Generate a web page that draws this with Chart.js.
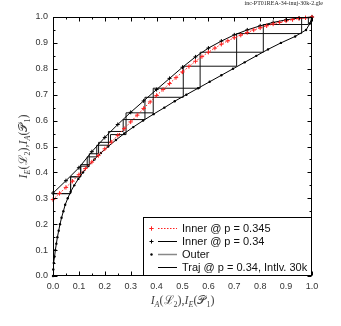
<!DOCTYPE html>
<html>
<head>
<meta charset="utf-8">
<script src="https://cdn.jsdelivr.net/npm/chart.js@4.4.0/dist/chart.umd.min.js"></script>
<style>
  html, body { margin: 0; padding: 0; background: #fff; }
  #wrap { width: 341px; height: 326px; }
</style>
</head>
<body>
<div id="wrap"><canvas id="exit" width="341" height="326"></canvas></div>
<script>
// EXIT chart values
const innerX345 = [0, 0.025, 0.05, 0.075, 0.1, 0.125, 0.15, 0.175, 0.2, 0.225, 0.25, 0.275, 0.3, 0.325, 0.35, 0.375, 0.4, 0.425, 0.45, 0.475, 0.5,
  0.525, 0.55, 0.575, 0.6, 0.625, 0.65, 0.675, 0.7, 0.725, 0.75, 0.775, 0.8, 0.825, 0.85, 0.875, 0.9, 0.925, 0.95, 0.975, 1.0];
const innerY345 = [0.295, 0.319, 0.342, 0.366, 0.391, 0.415, 0.44, 0.465, 0.491, 0.517, 0.543, 0.569, 0.595, 0.621, 0.647, 0.672, 0.697, 0.72, 0.743, 0.766, 0.788,
  0.809, 0.829, 0.847, 0.864, 0.88, 0.895, 0.908, 0.92, 0.93, 0.94, 0.95, 0.958, 0.966, 0.973, 0.979, 0.985, 0.99, 0.994, 0.997, 1.0];

const innerX34 = [0, 0.05, 0.1, 0.15, 0.2, 0.25, 0.3, 0.35, 0.4, 0.45, 0.5, 0.55, 0.6, 0.65, 0.7, 0.75, 0.8, 0.85, 0.9, 0.95, 1.0];
const innerY34 = [0.32, 0.368, 0.418, 0.48, 0.535, 0.585, 0.632, 0.676, 0.72, 0.763, 0.806, 0.846, 0.88, 0.907, 0.931, 0.95, 0.966, 0.979, 0.989, 0.996, 1.0];

const outerX = [0, 0.001, 0.003, 0.006, 0.009, 0.013, 0.017, 0.022, 0.027, 0.033, 0.04, 0.047, 0.057, 0.068, 0.082, 0.098, 0.116, 0.137, 0.16, 0.185, 0.213,
  0.243, 0.275, 0.31, 0.348, 0.388, 0.43, 0.47, 0.515, 0.56, 0.605, 0.65, 0.695, 0.74, 0.785, 0.83, 0.88, 0.935, 0.977, 0.992, 1.0];
const outerY = [0, 0.025, 0.05, 0.075, 0.1, 0.125, 0.15, 0.175, 0.2, 0.225, 0.25, 0.275, 0.3, 0.325, 0.35, 0.375, 0.4, 0.425, 0.45, 0.475, 0.5,
  0.525, 0.55, 0.575, 0.6, 0.625, 0.65, 0.675, 0.7, 0.725, 0.75, 0.775, 0.8, 0.825, 0.85, 0.875, 0.9, 0.925, 0.95, 0.975, 1.0];

const trajAX = [0, 0.068, 0.068, 0.107, 0.107, 0.132, 0.132, 0.169, 0.169, 0.214, 0.214, 0.271, 0.271, 0.355, 0.355, 0.503, 0.503, 0.709, 0.709, 0.96, 0.96, 1.0];
const trajAY = [0.318, 0.318, 0.383, 0.383, 0.424, 0.424, 0.46, 0.46, 0.505, 0.505, 0.558, 0.558, 0.604, 0.604, 0.69, 0.69, 0.81, 0.81, 0.936, 0.936, 0.997, 0.997];
const trajBX = [0, 0.068, 0.068, 0.107, 0.107, 0.14, 0.14, 0.176, 0.176, 0.222, 0.222, 0.282, 0.282, 0.387, 0.387, 0.568, 0.568, 0.812, 0.812, 0.986, 0.986, 1.0];
const trajBY = [0.318, 0.318, 0.383, 0.383, 0.43, 0.43, 0.472, 0.472, 0.516, 0.516, 0.546, 0.546, 0.63, 0.63, 0.725, 0.725, 0.864, 0.864, 0.971, 0.971, 1.0, 1.0];

const tickValues = [0, 0.1, 0.2, 0.3, 0.4, 0.5, 0.6, 0.7, 0.8, 0.9, 1.0];
const tickLabels = ['0.0', '0.1', '0.2', '0.3', '0.4', '0.5', '0.6', '0.7', '0.8', '0.9', '1.0'];
const minorTickValues = [0.05, 0.15, 0.25, 0.35, 0.45, 0.55, 0.65, 0.75, 0.85, 0.95];

const seriesLabels = ['Inner @ p = 0.345', 'Inner @ p = 0.34', 'Outer', 'Traj @ p = 0.34, Intlv. 30k'];
// axis titles as [text, style] pieces: i = italic, r = roman, s* = subscript
const xTitle = [['I', 'i'], ['A', 'si'], ['(', 'r'], ['ℒ', 'r'], ['2', 'sr'], [')', 'r'], [',', 'r'],
  ['I', 'i'], ['E', 'si'], ['(', 'r'], ['𝒫', 'r'], ['1', 'sr'], [')', 'r']];
const yTitle = [['I', 'i'], ['E', 'si'], ['(', 'r'], ['ℒ', 'r'], ['2', 'sr'], [')', 'r'], [',', 'r'],
  ['I', 'i'], ['A', 'si'], ['(', 'r'], ['𝒫', 'r'], ['1', 'sr'], [')', 'r']];
const fileCaption = 'inc-PT01REA-34-inuj-30k-2.gle';

const zip = (xs, ys) => xs.map((x, i) => ({ x, y: ys[i] }));

const RED = '#ff2020';
const tickFont = { family: '"Liberation Sans", Arial, sans-serif', size: 9 };

function drawRich(ctx, pieces, cx, cy, rotate) {
  const fontFor = st => {
    const sub = st[0] === 's';
    const ital = st.endsWith('i');
    return (ital ? 'italic ' : '') + (sub ? '8px' : '12px') + ' "Liberation Serif", "DejaVu Serif", serif';
  };
  ctx.save();
  let total = 0;
  const widths = pieces.map(([t, st]) => { ctx.font = fontFor(st); const w = ctx.measureText(t).width; total += w; return w; });
  ctx.translate(cx, cy);
  if (rotate) ctx.rotate(-Math.PI / 2);
  ctx.fillStyle = '#444';
  ctx.textBaseline = 'alphabetic';
  ctx.textAlign = 'left';
  let pos = -total / 2;
  pieces.forEach(([t, st], i) => {
    ctx.font = fontFor(st);
    ctx.fillText(t, pos, st[0] === 's' ? 7 : 4);
    pos += widths[i];
  });
  ctx.restore();
}

const framePlugin = {
  id: 'frame',
  afterDatasetsDraw(chart) {
    const { ctx, chartArea: a, scales: { x, y } } = chart;
    ctx.save();
    ctx.strokeStyle = '#000';
    ctx.lineWidth = 1;
    const L = Math.round(a.left) + 0.5, R = Math.round(a.right) - 0.5;
    const T = Math.round(a.top) + 0.5, B = Math.round(a.bottom) - 0.5;
    ctx.strokeRect(L, T, R - L, B - T);
    ctx.beginPath();
    const tick = (v, len) => {
      const px = Math.round(x.getPixelForValue(v)) + 0.5;
      const py = Math.round(y.getPixelForValue(v)) + 0.5;
      ctx.moveTo(px, B); ctx.lineTo(px, B - len);
      ctx.moveTo(px, T); ctx.lineTo(px, T + len);
      ctx.moveTo(L, py); ctx.lineTo(L + len, py);
      ctx.moveTo(R, py); ctx.lineTo(R - len, py);
    };
    tickValues.forEach(v => tick(v, 4));
    minorTickValues.forEach(v => tick(v, 2));
    ctx.stroke();
    ctx.restore();
  },
  afterDraw(chart) {
    const { ctx, chartArea: a } = chart;
    // legend box
    const bx = 143.5, by = 217.5, bw = Math.round(a.right) - 0.5 - bx, bh = Math.round(a.bottom) - 0.5 - by;
    ctx.save();
    ctx.fillStyle = '#fff';
    ctx.fillRect(bx, by, bw, bh);
    ctx.strokeStyle = '#000';
    ctx.lineWidth = 1;
    ctx.strokeRect(bx, by, bw, bh);
    ctx.font = '11px "Liberation Sans", Arial, sans-serif';
    ctx.textBaseline = 'middle';
    ctx.fillStyle = '#111';
    chart.data.datasets.slice(0, 4).forEach((ds, i) => {
      const cy = 228 + i * 13;
      // line sample
      ctx.save();
      ctx.strokeStyle = ds.legendLine;
      ctx.lineWidth = ds.legendWidth;
      ctx.setLineDash(ds.borderDash || []);
      ctx.beginPath(); ctx.moveTo(158, cy + 0.5); ctx.lineTo(177, cy + 0.5); ctx.stroke();
      ctx.restore();
      // marker
      ctx.save();
      ctx.strokeStyle = ds.pointBorderColor;
      ctx.fillStyle = ds.pointBorderColor;
      ctx.lineWidth = 1;
      if (ds.pointStyle === 'cross' && ds.pointRadius > 0) {
        const r = ds.pointRadius;
        ctx.beginPath(); ctx.moveTo(151.5 - r, cy + 0.5); ctx.lineTo(151.5 + r, cy + 0.5);
        ctx.moveTo(151.5, cy + 0.5 - r); ctx.lineTo(151.5, cy + 0.5 + r); ctx.stroke();
      } else if (ds.pointStyle === 'circle' && ds.pointRadius > 0) {
        ctx.beginPath(); ctx.arc(151.5, cy + 0.5, ds.pointRadius, 0, Math.PI * 2); ctx.fill();
      }
      ctx.restore();
      ctx.fillText(ds.label, 182, cy + 1);
    });
    // axis titles
    drawRich(ctx, xTitle, (a.left + a.right) / 2, 300, false);
    drawRich(ctx, yTitle, 23, (a.top + a.bottom) / 2, true);
    // file caption
    ctx.font = '6px "Liberation Serif", serif';
    ctx.fillStyle = '#222';
    ctx.textAlign = 'right';
    ctx.textBaseline = 'middle';
    ctx.fillText(fileCaption, 323, 3.5);
    ctx.restore();
  }
};

new Chart(document.getElementById('exit'), {
  type: 'scatter',
  data: {
    datasets: [
      {
        label: seriesLabels[0],
        data: zip(innerX345, innerY345),
        showLine: true,
        borderColor: RED,
        borderWidth: 1,
        borderDash: [1.5, 1.5],
        pointStyle: 'cross',
        pointRadius: 2.2,
        pointBorderColor: RED,
        pointBorderWidth: 1,
        legendLine: RED,
        legendWidth: 1,
        clip: 6
      },
      {
        label: seriesLabels[1],
        data: zip(innerX34, innerY34),
        showLine: true,
        borderColor: '#000',
        borderWidth: 1,
        pointStyle: 'cross',
        pointRadius: 2,
        pointBorderColor: '#000',
        pointBorderWidth: 1,
        legendLine: '#000',
        legendWidth: 1,
        clip: 6
      },
      {
        label: seriesLabels[2],
        data: zip(outerX, outerY),
        showLine: true,
        borderColor: '#000',
        borderWidth: 1,
        pointStyle: 'circle',
        pointRadius: 1.2,
        pointBackgroundColor: '#000',
        pointBorderColor: '#000',
        pointBorderWidth: 0,
        legendLine: '#888',
        legendWidth: 1.5,
        clip: 6
      },
      {
        label: seriesLabels[3],
        data: zip(trajAX, trajAY),
        showLine: true,
        borderColor: '#111',
        borderWidth: 1,
        pointRadius: 0,
        pointStyle: false,
        pointBorderColor: '#000',
        legendLine: '#000',
        legendWidth: 1,
        clip: 0
      },
      {
        label: seriesLabels[3] + ' (2)',
        data: zip(trajBX, trajBY),
        showLine: true,
        borderColor: '#111',
        borderWidth: 1,
        pointRadius: 0,
        clip: 0
      }
    ]
  },
  options: {
    responsive: false,
    devicePixelRatio: 1,
    animation: false,
    layout: { padding: { top: 17, right: 29, left: 0, bottom: 0 } },
    plugins: { legend: { display: false }, tooltip: { enabled: false } },
    elements: { line: { tension: 0 } },
    scales: {
      x: {
        type: 'linear', min: 0, max: 1,
        afterBuildTicks: s => { s.ticks = tickValues.map(v => ({ value: v })); },
        ticks: { callback: (v, i) => tickLabels[i], font: tickFont, color: '#333', padding: 5, maxRotation: 0, autoSkip: false },
        grid: { display: false, drawTicks: false },
        border: { display: false },
        afterFit: s => { s.height = 50; }
      },
      y: {
        type: 'linear', min: 0, max: 1,
        afterBuildTicks: s => { s.ticks = tickValues.map(v => ({ value: v })); },
        ticks: { callback: (v, i) => tickLabels[i], font: tickFont, color: '#333', padding: 5, autoSkip: false },
        grid: { display: false, drawTicks: false },
        border: { display: false },
        afterFit: s => { s.width = 53; }
      }
    }
  },
  plugins: [framePlugin]
});
</script>
</body>
</html>
